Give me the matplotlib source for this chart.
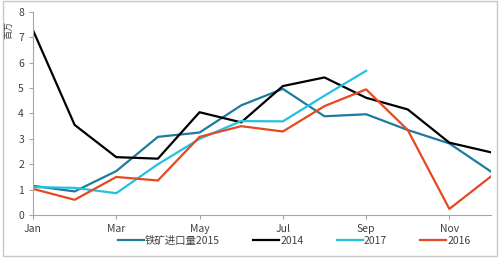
# -*- coding: utf-8 -*-
import matplotlib
matplotlib.use('Agg')
import matplotlib.pyplot as plt
from matplotlib.patches import Rectangle

plt.rcParams['font.family'] = ['Noto Sans CJK SC', 'DejaVu Sans']

months = ['Jan', 'Feb', 'Mar', 'Apr', 'May', 'Jun', 'Jul', 'Aug', 'Sep', 'Oct', 'Nov', 'Dec']
y2015 = [1.15, 0.93, 1.73, 3.08, 3.25, 4.32, 4.97, 3.89, 3.97, 3.35, 2.82, 1.71]
y2014 = [7.28, 3.55, 2.28, 2.22, 4.05, 3.65, 5.08, 5.42, 4.62, 4.16, 2.85, 2.47]
y2017 = [1.1, 1.07, 0.86, 2.0, 3.0, 3.7, 3.69, 4.7, 5.68]
y2016 = [1.03, 0.6, 1.5, 1.36, 3.08, 3.5, 3.29, 4.29, 4.95, 3.35, 0.24, 1.52]

fig = plt.figure(figsize=(5, 2.6), dpi=100)
ax = fig.add_axes([0.066, 0.173, 0.916, 0.781])

x = range(len(months))
ax.plot(x, y2015, color='#1f7b9e', lw=1.6, label='铁矿进口量2015')
ax.plot(x, y2014, color='black', lw=1.6, label='2014')
ax.plot(range(len(y2017)), y2017, color='#25c0e0', lw=1.6, label='2017')
ax.plot(x, y2016, color='#e44a1f', lw=1.6, label='2016')

ax.set_xlim(0, 11)
ax.set_ylim(0, 8)
ax.set_xticks(range(0, 12, 2))
ax.set_xticklabels(months[::2])
ax.set_yticks(range(0, 9))
for s in ['top', 'right']:
    ax.spines[s].set_visible(False)
for s in ['left', 'bottom']:
    ax.spines[s].set_color('#a6a6a6')
    ax.spines[s].set_linewidth(0.8)
ax.tick_params(colors='#a6a6a6', labelcolor='#404040', labelsize=7.5, length=3, width=0.8)

fig.text(0.018, 0.885, '百万', rotation=90, fontsize=6.5, color='#404040', ha='center', va='center')

ax.legend(loc='upper center', bbox_to_anchor=(0.57, -0.055), ncol=4, frameon=False,
          fontsize=7.5, handlelength=2.5, handletextpad=0.1, columnspacing=3.2,
          labelcolor='#404040')

fig.patches.append(Rectangle((0.006, 0.015), 0.988, 0.98, transform=fig.transFigure,
                             fill=False, edgecolor='#c8c8c8', lw=1))

fig.savefig('out.png', dpi=100)
